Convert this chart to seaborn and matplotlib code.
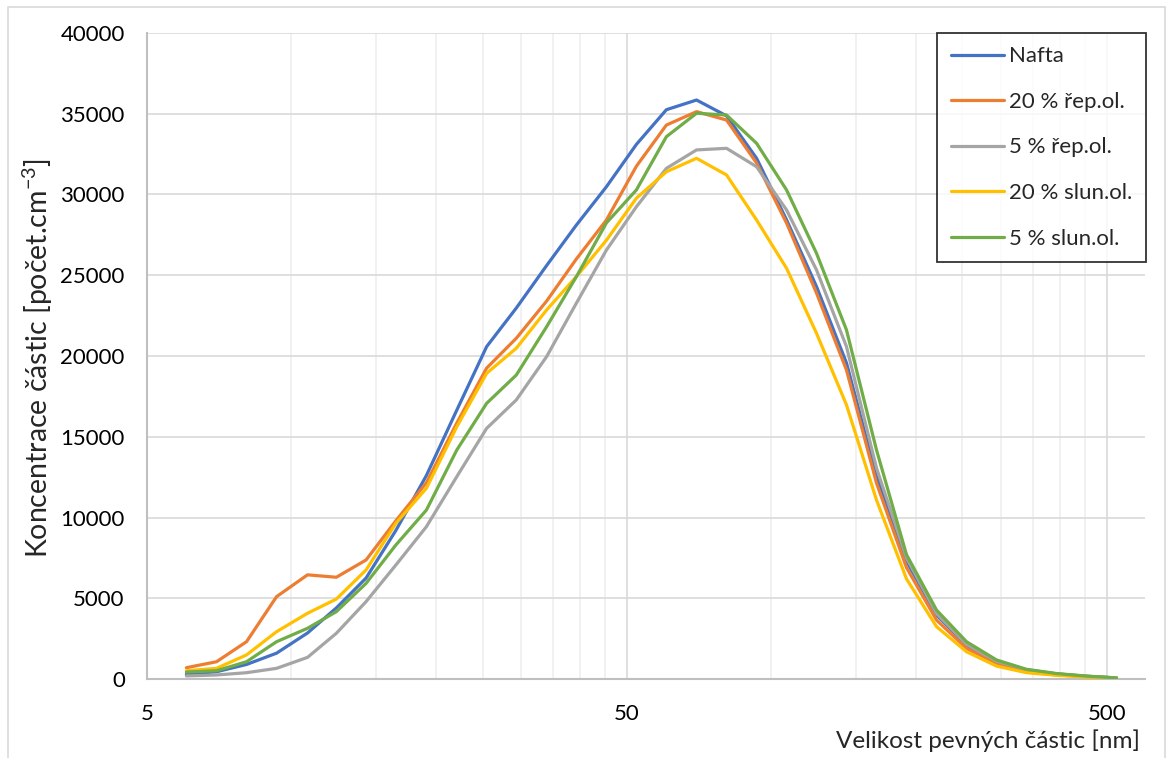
import numpy as np
import pandas as pd
import matplotlib
matplotlib.use("Agg")
import matplotlib.pyplot as plt
from matplotlib.ticker import FixedLocator, NullFormatter, FixedFormatter
from matplotlib.patches import Rectangle
import seaborn as sns

# particle size channels [nm]
size_nm = [6.04, 6.98, 8.06, 9.31, 10.8, 12.4, 14.3, 16.5, 19.1, 22.1, 25.5, 29.4,
           34.0, 39.2, 45.3, 52.3, 60.4, 69.8, 80.6, 93.1, 107.5, 124.1, 143.3,
           165.5, 191.1, 220.7, 254.8, 294.3, 339.8, 392.4, 453.2, 523.3]

nafta = [300, 450, 900, 1600, 2850, 4400, 6250, 9200, 12600, 16650, 20580, 22970,
         25600, 28100, 30480, 33100, 35250, 35850, 34870, 32240, 28430, 24300, 19570,
         12530, 7300, 3960, 2100, 1070, 560, 310, 170, 60]
rep20 = [700, 1070, 2310, 5100, 6450, 6300, 7370, 9800, 12150, 15850, 19250, 21100,
         23400, 26000, 28420, 31750, 34300, 35130, 34610, 31950, 28230, 23900, 19130,
         12130, 6900, 3650, 1900, 970, 450, 250, 150, 60]
rep5 = [190, 250, 390, 660, 1340, 2830, 4790, 7060, 9430, 12530, 15520, 17280,
        19960, 23260, 26560, 29240, 31620, 32760, 32860, 31720, 29040, 25330, 20580,
        13060, 7500, 4050, 2150, 1100, 580, 320, 170, 70]
slun20 = [510, 660, 1490, 2930, 4070, 4950, 6750, 9640, 11810, 15620, 18930, 20480,
          22850, 24910, 27170, 29770, 31410, 32240, 31210, 28420, 25430, 21410, 16970,
          11080, 6200, 3240, 1690, 800, 390, 230, 120, 50]
slun5 = [430, 510, 1070, 2310, 3140, 4170, 5920, 8300, 10460, 14180, 17070, 18820,
         21810, 24900, 28240, 30280, 33580, 35030, 34920, 33170, 30280, 26360, 21610,
         14180, 7700, 4270, 2310, 1180, 600, 340, 180, 70]

series_names = ["Nafta", "20 % řep.ol.", "5 % řep.ol.", "20 % slun.ol.", "5 % slun.ol."]
series_vals = [nafta, rep20, rep5, slun20, slun5]
colors = ["#4472C4", "#ED7D31", "#A5A5A5", "#FFC000", "#70AD47"]

x_major = [5, 50, 500]
x_major_labels = ["5", "50", "500"]
y_ticks = list(range(0, 40001, 5000))

rows = []
for name, vals in zip(series_names, series_vals):
    for s, v in zip(size_nm, vals):
        rows.append({"size": s, "conc": v, "series": name})
df = pd.DataFrame(rows)

sns.set_theme(style="white")
plt.rcParams["font.family"] = ["Lato", "DejaVu Sans"]
plt.rcParams["mathtext.fontset"] = "custom"
plt.rcParams["mathtext.rm"] = "Lato"
plt.rcParams["mathtext.it"] = "Lato:italic"

W, H = 1170, 758
fig = plt.figure(figsize=(W/100, H/100), dpi=100)
fig.patch.set_facecolor("white")
ax = fig.add_axes([147/W, 1-679/H, (1145-147)/W, (679-33)/H])

sns.lineplot(data=df, x="size", y="conc", hue="series", hue_order=series_names,
             palette=colors, linewidth=2.3, sort=True, ax=ax, legend=False, zorder=3)
for ln in ax.get_lines():
    ln.set_solid_joinstyle("round")
    ln.set_solid_capstyle("round")

ax.set_xscale("log")
ax.set_xlim(5, 600)
ax.set_ylim(0, 40000)

minor = [5*k for k in range(2, 10)] + [50*k for k in range(2, 10)]
ax.xaxis.set_major_locator(FixedLocator(x_major))
ax.xaxis.set_major_formatter(FixedFormatter(x_major_labels))
ax.xaxis.set_minor_locator(FixedLocator(minor))
ax.xaxis.set_minor_formatter(NullFormatter())
ax.set_yticks(y_ticks)
ax.set_yticklabels([str(v) for v in y_ticks])

ax.grid(which="major", axis="y", color="#d9d9d9", linewidth=1.2, zorder=0)
ax.grid(which="major", axis="x", color="#d9d9d9", linewidth=1.2, zorder=0)
ax.grid(which="minor", axis="x", color="#efefef", linewidth=1.2, zorder=0)
ax.set_axisbelow(True)

ax.tick_params(axis="both", which="both", length=0, labelsize=16, colors="black")
ax.tick_params(axis="x", pad=18)
ax.tick_params(axis="y", pad=16)

for side in ["top", "right"]:
    ax.spines[side].set_visible(False)
for side in ["left", "bottom"]:
    ax.spines[side].set_color("#bfbfbf")
    ax.spines[side].set_linewidth(1.5)

ax.set_xlabel("")
ax.set_ylabel("")
fig.text(38/W, 1-358/H, "Koncentrace částic [počet.cm$^{-3}$]", rotation=90,
         ha="center", va="center", fontsize=20.5)
fig.text(1140/W, 1-741/H, "Velikost pevných částic [nm]", ha="right", va="center",
         fontsize=17.5)

handles = [plt.Line2D([0], [0], color=c, lw=2.3) for c in colors]
leg = ax.legend(handles, series_names, loc="upper right",
                bbox_to_anchor=(1146/W, 1-33/H), bbox_transform=fig.transFigure,
                borderaxespad=0, frameon=True, fancybox=False, fontsize=16,
                labelspacing=1.15, handlelength=2.4, handletextpad=0.25,
                borderpad=0.6, edgecolor="black")
leg.get_frame().set_linewidth(1.3)
leg.set_zorder(5)

fig.patches.append(Rectangle((8/W, -0.05), 1157/W, 1.05 - 7/H,
                             transform=fig.transFigure, fill=False,
                             edgecolor="#d9d9d9", linewidth=1.2))

fig.savefig("out.png", dpi=100)
